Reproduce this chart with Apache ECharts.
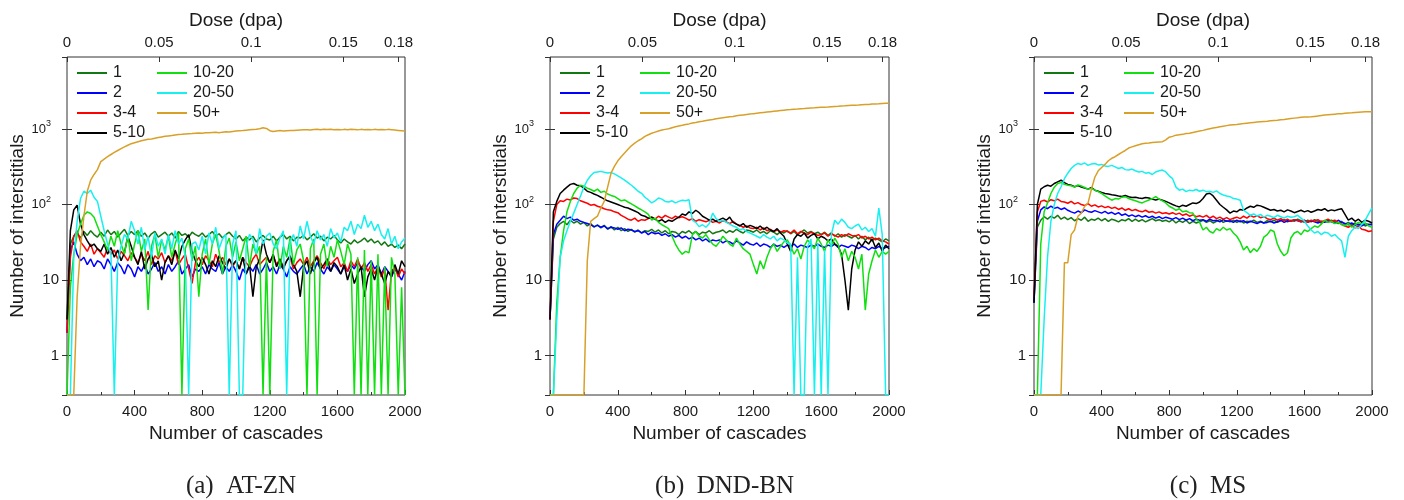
<!DOCTYPE html>
<html>
<head>
<meta charset="utf-8">
<script src="https://cdn.jsdelivr.net/npm/echarts@6/dist/echarts.min.js"></script>
<style>
html,body{margin:0;padding:0;background:#fff;}
#chart{width:1404px;height:500px;}
</style>
</head>
<body>
<div id="chart"></div>
<script>
// ---------------- DATA (one value every 20 cascades) ----------------
const CASCADES = Array.from({length: 101}, (_, i) => i * 20);
const SERIES_NAMES = ['1', '2', '3-4', '5-10', '10-20', '20-50', '50+'];
const PANEL_CAPTIONS = ['(a)  AT-ZN', '(b)  DND-BN', '(c)  MS'];
const DOSE_TICKS = [0, 0.05, 0.1, 0.15, 0.18];

// (a) AT-ZN
const A_1 = [3,30,38,42,36,44,39,45,40,37, 43,38,46,40,44,37,42,47,39,44, 40,45,38,42,36,41,44,37,40,43, 38,42,36,44,39,41,37,43,40,38, 42,37,40,44,38,41,36,40,43,38, 35,39,33,37,34,38,32,36,39,35, 34,38,33,37,40,35,38,33,37,36, 39,34,37,41,36,38,33,37,35,39, 34,31,35,32,30,34,31,33,36,32, 35,31,33,29,32,28,30,27,29,26, 30];
const A_2 = [2,25,32,22,18,20,16,19,15,18, 17,14,19,16,13,17,15,12,16,14, 11,15,13,16,12,14,17,13,15,12, 16,13,15,18,12,14,16,11,14,13, 15,12,16,14,13,17,12,15,13,16, 13,10,14,12,15,13,16,12,14,17, 13,15,12,16,14,11,15,13,12,14, 16,12,15,13,17,14,12,15,13,16, 14,12,15,13,16,14,17,15,13,16, 18,14,16,12,15,13,11,14,12,10, 13];
const A_34 = [2,20,38,45,32,28,24,30,22,26, 23,20,27,22,25,19,24,21,18,23, 20,17,22,18,24,16,21,19,23,17, 21,18,24,16,19,22,14,9,17,20, 16,21,18,15,22,17,20,16,19,15, 18,14,20,17,15,19,22,16,18,20, 17,21,16,19,15,18,20,14,17,19, 16,20,15,18,21,17,14,19,16,18, 20,15,17,13,18,15,19,14,17,13, 16,12,15,11,14,4,13,15,11,14, 12];
const A_510 = [3,45,85,98,55,40,33,28,30,26, 24,30,22,27,20,25,18,23,38,28, 20,16,24,14,19,22,15,18,10,17, 21,16,25,19,28,34,40,24,18,15, 20,16,12,18,15,21,17,14,19,16, 18,14,20,12,16,6,15,19,34,22, 17,22,15,19,14,18,21,16,13,6, 15,18,12,17,20,14,16,19,13,17, 15,12,16,10,14,9,12,15,6,11, 14,10,15,12,9,13,11,16,12,18, 15];
const A_1020 = [0,8,22,40,55,72,80,76,68,52, 40,32,25,38,28,45,30,22,40,18, 30,45,24,35,4,28,40,20,34,25, 38,20,30,42,0,26,35,18,28,6, 22,35,16,30,40,24,12,28,36,20, 32,18,26,38,15,30,22,28,0,20, 0,24,34,14,28,20,36,16,25,30, 18,0,26,35,0,22,30,15,28,20, 34,24,16,30,22,0,20,0,25,0, 18,0,22,0,15,0,20,12,0,8, 0];
const A_2050 = [0,0,20,60,120,150,140,155,125,110, 70,45,30,22,0,18,28,40,35,60, 45,30,50,25,38,20,42,28,35,22, 40,26,45,30,36,20,0,30,32,25, 38,22,42,30,50,26,35,40,0,30, 45,0,0,28,40,35,22,48,30,38, 42,30,26,36,45,0,32,40,28,52, 35,60,38,30,45,34,40,28,48,36, 42,32,50,45,60,40,55,48,72,50, 60,45,55,40,35,48,30,38,26,32, 36];
const A_50 = [0,0,0,6,28,70,150,210,250,290, 370,400,430,460,490,520,550,580,610,640, 660,680,700,715,730,740,755,770,785,800, 810,820,835,845,850,860,865,870,880,885, 880,890,895,900,905,895,910,920,915,930, 940,950,955,965,975,985,995,1010,1040,1020, 950,930,945,955,940,950,960,955,965,970, 975,980,970,985,990,980,995,985,990,980, 985,975,990,980,995,985,975,990,980,985, 975,990,980,985,975,990,980,970,960,950, 940];

// (b) DND-BN
const B_1 = [3,35,50,56,60,54,62,57,60,55, 58,52,56,50,54,49,53,47,51,46, 50,45,48,44,47,43,46,42,45,44, 47,43,46,42,45,41,44,43,40,44, 42,45,41,44,40,43,42,45,41,43, 44,46,42,45,43,47,44,42,46,45, 43,46,42,44,41,45,43,40,44,42, 45,41,44,40,43,46,42,44,41,43, 40,43,39,42,38,41,37,40,38,36, 39,35,38,34,37,33,36,34,32,35, 33];
const B_2 = [3,40,55,62,70,65,68,62,64,60, 58,56,54,51,53,50,52,48,50,49, 47,49,45,47,46,44,45,42,44,40, 43,41,42,39,41,38,40,37,39,36, 38,35,37,34,36,33,35,32,34,33, 34,31,33,32,30,33,31,29,32,30, 29,31,28,30,29,27,30,28,29,27, 29,28,30,27,29,28,27,29,28,30, 28,27,29,28,30,27,29,28,27,29, 28,26,28,27,25,27,26,28,26,27, 28];
const B_34 = [3,60,100,112,110,118,115,122,120,112, 108,104,98,100,95,92,88,85,84,80, 78,72,68,64,62,66,60,63,62,65, 68,64,70,66,72,68,65,70,67,69, 66,62,65,60,63,61,59,62,58,60, 57,61,59,56,60,55,53,50,52,49, 48,50,46,49,45,47,44,46,43,45, 44,42,46,41,44,42,40,43,41,39, 40,42,38,41,39,37,40,38,41,39, 38,40,36,38,35,37,34,36,33,32, 30];
const B_510 = [3,80,110,140,155,170,185,190,180,178, 165,150,145,138,132,125,118,112,108,104, 100,96,92,90,86,82,78,72,70,66, 68,64,60,63,58,62,60,64,68,75, 72,80,76,84,78,70,66,62,64,60, 63,66,62,68,58,55,52,56,50,53, 51,48,52,47,50,46,44,48,42,38, 30,24,35,40,38,42,36,39,41,35, 38,36,33,35,30,28,22,10,4,14, 25,32,28,33,30,35,27,31,24,29, 26];
const B_1020 = [0,0,5,20,45,80,110,140,165,180, 175,165,158,150,160,145,150,138,132,128, 120,112,115,108,102,96,90,85,80,74, 62,66,58,54,51,48,38,30,25,22, 24,23,40,44,38,36,40,34,30,28, 32,38,34,30,28,36,30,26,24,22, 16,12,18,14,20,26,30,24,28,32, 34,28,22,26,19,28,34,30,26,36, 30,24,34,28,36,30,20,26,18,24, 20,14,22,4,12,18,25,20,24,22, 24];
const B_2050 = [0,0,3,20,33,45,60,77,100,130, 170,210,240,265,270,275,268,262,265,255, 240,225,210,195,180,165,150,141,125,115, 105,112,122,118,110,108,112,105,110,114, 112,116,62,58,51,54,50,56,77,65, 60,62,58,55,52,50,46,48,44,42, 40,38,36,40,37,35,38,33,36,34, 31,30,0,20,0,0,28,35,0,30, 0,25,0,40,62,55,64,58,50,48, 52,55,46,50,44,48,38,90,40,0, 0];
const B_50 = [0,0,0,0,0,0,0,0,0,0, 0,18,60,65,70,90,110,170,260,320, 380,430,480,540,600,650,700,740,800,840, 880,910,940,970,990,1010,1040,1070,1100,1120, 1150,1170,1200,1220,1250,1270,1300,1320,1340,1370, 1390,1410,1430,1450,1470,1500,1520,1540,1560,1580, 1600,1620,1640,1660,1680,1700,1720,1740,1760,1780, 1800,1810,1830,1840,1860,1870,1890,1900,1910,1930, 1940,1950,1960,1975,1990,2000,2020,2030,2050,2060, 2070,2080,2100,2110,2120,2140,2150,2160,2180,2190, 2200];

// (c) MS
const C_1 = [5,50,62,69,64,70,66,72,64,68, 63,67,61,65,62,68,60,64,62,66, 61,65,60,64,62,59,63,61,65,60, 64,60,63,59,62,65,61,63,60,62, 59,63,57,61,58,62,56,60,57,59, 62,58,61,57,60,63,58,61,59,62, 58,61,57,60,59,62,58,60,57,61, 59,62,58,61,63,59,62,60,64,61, 58,62,59,63,60,57,61,58,62,59, 56,60,55,58,54,57,53,56,52,55, 54];
const C_2 = [5,60,85,93,88,95,89,92,86,90, 84,80,77,82,78,85,81,79,83,80, 77,81,76,79,74,78,72,75,70,73, 69,72,68,71,67,70,66,69,65,68, 66,64,67,63,66,62,65,61,64,62, 63,60,64,61,62,59,63,60,61,58, 62,59,61,57,60,58,56,59,57,58, 60,57,59,62,58,61,60,63,61,59, 62,58,61,59,57,60,58,61,59,57, 62,58,56,54,57,53,55,52,56,54, 55];
const C_34 = [6,80,110,114,108,116,112,118,110,108, 104,110,102,106,100,97,103,95,99,93, 96,91,94,89,92,86,90,84,88,83, 86,82,80,84,79,81,77,80,76,78, 75,78,74,77,72,75,70,73,69,71, 68,72,66,70,65,68,64,67,63,66, 68,65,70,66,72,68,71,67,69,65, 63,66,62,65,61,64,60,63,62,59, 61,58,62,60,63,59,61,64,60,62, 58,55,52,50,53,49,52,47,46,44, 45];
const C_510 = [5,100,160,172,180,175,190,200,210,195, 185,180,172,178,170,165,160,168,155,150, 145,140,138,135,133,130,128,132,127,124, 125,122,120,124,122,118,115,118,114,110, 105,100,96,93,98,95,100,105,103,108, 120,138,141,130,114,100,92,85,77,82, 80,86,84,90,95,92,98,96,92,88, 84,86,82,84,80,85,82,78,81,84, 80,83,79,82,86,84,88,82,85,83, 86,88,74,62,66,60,64,58,62,60, 57];
const C_1020 = [0,0,30,80,105,140,170,190,195,185, 180,178,170,182,176,168,160,164,155,148, 140,130,122,114,120,118,125,127,120,116, 112,108,105,110,115,120,127,118,112,105, 95,90,84,88,80,82,78,77,64,58, 46,50,44,42,48,45,50,46,48,42, 38,32,25,28,23,26,24,28,37,40, 46,44,30,24,21,23,36,42,44,40, 46,44,48,52,50,55,62,58,60,56, 58,54,52,56,50,54,58,55,57,52, 50];
const C_2050 = [0,0,0,3,20,60,100,140,172,220, 260,300,330,350,340,355,330,345,350,335, 340,325,320,330,315,300,310,290,286,295, 280,270,275,260,265,250,270,280,286,270, 240,220,170,155,160,148,155,152,158,150, 155,148,150,145,152,140,134,130,127,120, 118,114,84,78,72,75,70,74,68,72, 70,67,72,69,66,70,68,69,72,66, 60,52,46,42,44,40,43,42,38,40, 36,33,20,38,45,50,48,55,62,75, 90];
const C_50 = [0,0,0,0,0,0,0,0,0,17, 17,40,46,70,77,95,105,160,230,280, 310,340,380,410,430,460,490,520,560,580, 600,620,640,650,655,665,670,675,680,720, 780,800,830,840,850,870,880,900,920,940, 960,985,1010,1030,1050,1070,1090,1110,1130,1140, 1150,1170,1180,1195,1210,1225,1240,1250,1260,1270, 1285,1300,1310,1330,1340,1360,1380,1395,1410,1430, 1440,1445,1450,1470,1490,1510,1530,1545,1560,1575, 1590,1600,1615,1630,1640,1655,1670,1680,1690,1700, 1700];

const PANELS = [
  [A_1, A_2, A_34, A_510, A_1020, A_2050, A_50],
  [B_1, B_2, B_34, B_510, B_1020, B_2050, B_50],
  [C_1, C_2, C_34, C_510, C_1020, C_2050, C_50]
];

// ---------------- STYLE / LAYOUT ----------------
const COLORS = ['#127812', '#0000ff', '#ff0000', '#000000', '#10e010', '#18f0f0', '#d9a029'];
const Y_MIN = 0.3, Y_MAX = 9000;       // log axis range
const DOSE_MAX = 0.1835;                // dose at 2000 cascades
const GRID_LEFT = [67, 550, 1034];
const GRID_W = [338, 339, 338];
const GRID_TOP = 57, GRID_H = 338;
const FONT = 'Liberation Sans, Arial, sans-serif';
const TXT = '#1a1a1a';

function yFmt(v) {
  const l = Math.log10(v);
  const e = Math.round(l);
  if (Math.abs(l - e) > 1e-6) return '';
  if (e === 0) return '1';
  if (e === 1) return '10';
  return '{b|10}{s|' + e + '}{g|}';
}

const grids = [], xAxes = [], yAxes = [], series = [], legends = [], titles = [];
PANELS.forEach((panel, p) => {
  grids.push({left: GRID_LEFT[p], top: GRID_TOP, width: GRID_W[p], height: GRID_H,
    show: true, borderColor: '#333', borderWidth: 1, backgroundColor: 'transparent', containLabel: false});
  // bottom x axis (cascades)
  xAxes.push({type: 'value', gridIndex: p, position: 'bottom', min: 0, max: 2000, interval: 400,
    name: 'Number of cascades', nameLocation: 'middle', nameGap: 27,
    nameTextStyle: {fontSize: 19, fontFamily: FONT, color: TXT},
    axisLine: {show: false}, splitLine: {show: false},
    axisTick: {show: true, inside: true, length: 5, lineStyle: {color: '#333'}},
    minorTick: {show: true, splitNumber: 2, length: 3, lineStyle: {color: '#333'}},
    axisLabel: {fontSize: 15, fontFamily: FONT, color: TXT, margin: 9, showMinLabel: true, showMaxLabel: true,
      formatter: v => String(v)}});
  // top x axis (dose)
  xAxes.push({type: 'value', gridIndex: p, position: 'top', min: 0, max: DOSE_MAX,
    name: 'Dose (dpa)', nameLocation: 'middle', nameGap: 25,
    nameTextStyle: {fontSize: 19, fontFamily: FONT, color: TXT},
    axisLine: {show: false}, splitLine: {show: false},
    axisTick: {show: true, inside: true, length: 5, customValues: DOSE_TICKS, lineStyle: {color: '#333'}},
    axisLabel: {fontSize: 15, fontFamily: FONT, color: TXT, margin: 7, customValues: DOSE_TICKS,
      formatter: v => String(+v.toFixed(2))}});
  // left y axis (log)
  yAxes.push({type: 'log', logBase: 10, gridIndex: p, position: 'left', min: Y_MIN, max: Y_MAX,
    name: 'Number of interstitials', nameLocation: 'middle', nameGap: 31,
    nameTextStyle: {fontSize: 19, fontFamily: FONT, color: TXT},
    axisLine: {show: false}, splitLine: {show: false},
    axisTick: {show: true, inside: true, length: 5, lineStyle: {color: '#333'}},
    axisLabel: {fontSize: 15, fontFamily: FONT, color: TXT, margin: 8, lineHeight: 20,
      showMinLabel: false, showMaxLabel: false, formatter: yFmt,
      rich: {b: {fontSize: 13, fontFamily: FONT, color: TXT, lineHeight: 20},
             s: {fontSize: 9, fontFamily: FONT, color: TXT, verticalAlign: 'top', lineHeight: 20},
             g: {width: 8}}}});
  // right y axis (ticks only)
  yAxes.push({type: 'log', logBase: 10, gridIndex: p, position: 'right', min: Y_MIN, max: Y_MAX,
    axisLine: {show: false}, splitLine: {show: false}, axisLabel: {show: false},
    axisTick: {show: true, inside: true, length: 5, lineStyle: {color: '#333'}}});

  panel.forEach((vals, k) => {
    series.push({
      type: 'line', name: SERIES_NAMES[k], xAxisIndex: 2 * p, yAxisIndex: 2 * p,
      data: CASCADES.map((c, j) => [c, vals[j] > 0 ? vals[j] : Y_MIN]), // zero counts sit on the axis floor
      showSymbol: false, symbol: 'none', color: COLORS[k],
      lineStyle: {width: 1.5, color: COLORS[k]}, itemStyle: {color: COLORS[k]},
      clip: true, animation: false, z: 2 + k
    });
  });

  const legBase = {orient: 'vertical', top: 63, itemWidth: 30, itemHeight: 2, itemGap: 0, padding: 0,
    icon: 'rect', selectedMode: false,
    textStyle: {fontSize: 16, fontFamily: FONT, color: TXT, lineHeight: 20, padding: [0, 0, 0, 1]}};
  legends.push(Object.assign({}, legBase, {left: GRID_LEFT[p] + 10, data: SERIES_NAMES.slice(0, 4)}));
  legends.push(Object.assign({}, legBase, {left: GRID_LEFT[p] + 90, data: SERIES_NAMES.slice(4)}));

  titles.push({text: PANEL_CAPTIONS[p], left: GRID_LEFT[p] + GRID_W[p] / 2, top: 469, textAlign: 'center',
    textStyle: {fontSize: 25, fontWeight: 'normal', fontFamily: 'Liberation Serif, serif', color: '#222'}});
});

const chart = echarts.init(document.getElementById('chart'), null, {renderer: 'canvas'});
chart.setOption({
  animation: false,
  backgroundColor: '#fff',
  title: titles,
  legend: legends,
  grid: grids,
  xAxis: xAxes,
  yAxis: yAxes,
  series: series
});
</script>
</body>
</html>
